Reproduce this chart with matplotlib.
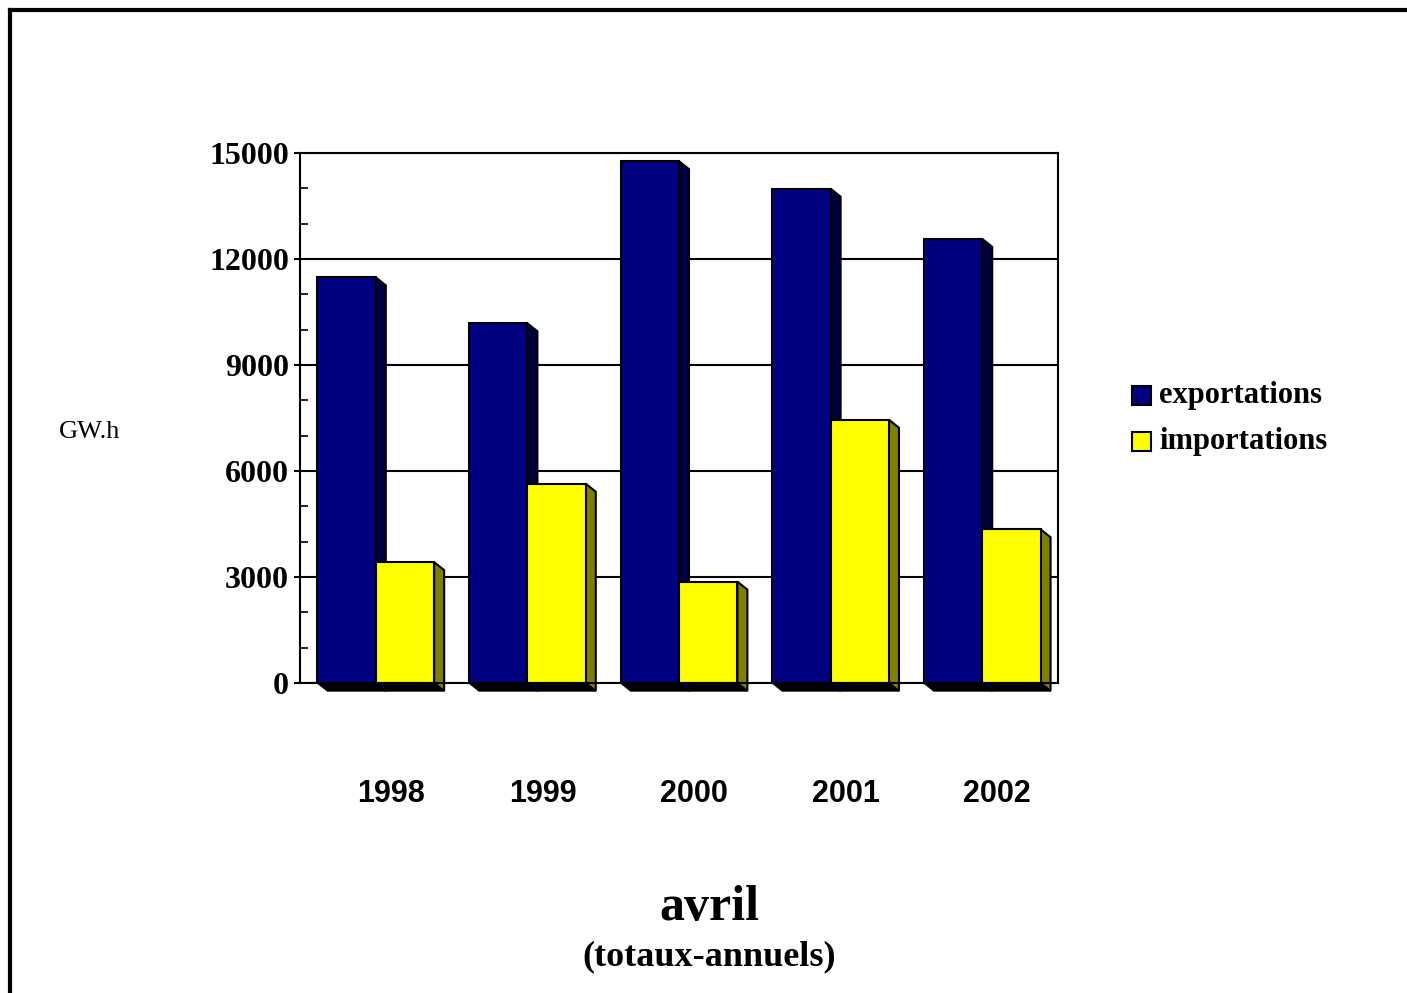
import matplotlib.pyplot as plt
from matplotlib.patches import Polygon, Rectangle
from matplotlib.lines import Line2D
from matplotlib.ticker import MultipleLocator

annees = ["1998", "1999", "2000", "2001", "2002"]
exportations = [11480, 10180, 14770, 13990, 12570]
importations = [3420, 5640, 2870, 7450, 4350]

bleu = "#000080"
bleu_cote = "#000040"
jaune = "#FFFF00"
jaune_cote = "#808000"

fig = plt.figure(figsize=(14.07, 9.93), dpi=100)
ax = fig.add_axes([300/1407, 1-683/993, 758/1407, 530/993])

# cadre de la page (bords droit et bas coupés)
fig.add_artist(Line2D([10/1407, 1.0], [1-10/993, 1-10/993], color="black", lw=3, transform=fig.transFigure))
fig.add_artist(Line2D([10/1407, 10/1407], [1-10/993, 0.0], color="black", lw=3, transform=fig.transFigure))

w = 0.385   # largeur d'une barre
dx = 0.066  # profondeur en x (unités de données)
dy = -226   # profondeur en y

ax.set_xlim(-0.5, 4.5)
ax.set_ylim(0, 15000)

for i in range(len(annees)):
    x0 = i - w
    # ombre au sol
    ax.add_patch(Polygon([(x0, 0), (i + w, 0), (i + w + dx, dy), (x0 + dx, dy)],
                         closed=True, fc="black", ec="black", lw=1, clip_on=False, zorder=3))
    # exportations
    e = exportations[i]
    ax.add_patch(Polygon([(i, e), (i + dx, e + dy), (i + dx, dy), (i, 0)],
                         closed=True, fc=bleu_cote, ec="black", lw=1.5, clip_on=False, zorder=4))
    ax.add_patch(Rectangle((x0, 0), w, e, fc=bleu, ec="black", lw=1.5, zorder=5))
    # importations
    m = importations[i]
    ax.add_patch(Polygon([(i + w, m), (i + w + dx, m + dy), (i + w + dx, dy), (i + w, 0)],
                         closed=True, fc=jaune_cote, ec="black", lw=1.5, clip_on=False, zorder=6))
    ax.add_patch(Rectangle((i, 0), w, m, fc=jaune, ec="black", lw=1.5, zorder=7))

ax.yaxis.set_major_locator(MultipleLocator(3000))
ax.yaxis.set_minor_locator(MultipleLocator(1000))
ax.grid(axis="y", which="major", color="black", lw=1.5, zorder=1)
ax.tick_params(axis="y", which="major", direction="out", length=4, width=1.5, pad=4,
               labelsize=23)
ax.tick_params(axis="y", which="minor", direction="in", length=6, width=1.2)
for lab in ax.get_yticklabels():
    lab.set_fontfamily("Liberation Serif")
    lab.set_fontweight("bold")

ax.set_xticks([i + 0.1 for i in range(len(annees))])
ax.set_xticklabels(annees, fontfamily="Liberation Sans", fontweight="bold", fontsize=22)
ax.tick_params(axis="x", length=0, pad=69)

for sp in ax.spines.values():
    sp.set_linewidth(1.5)
    sp.set_zorder(8)
ax.set_axisbelow(True)

# légende
fig.add_artist(Rectangle((1132/1407, 1-405/993), 19/1407, 19/993, fc=bleu, ec="black", lw=1.5,
                         transform=fig.transFigure))
fig.add_artist(Rectangle((1132/1407, 1-451/993), 19/1407, 19/993, fc=jaune, ec="black", lw=1.5,
                         transform=fig.transFigure))
fig.text(1159/1407, 1-396/993, "exportations", fontfamily="Liberation Serif", fontweight="bold",
         fontsize=22, va="center", ha="left")
fig.text(1159/1407, 1-441/993, "importations", fontfamily="Liberation Serif", fontweight="bold",
         fontsize=22, va="center", ha="left")

fig.text(90/1407, 1-432/993, "GW.h", fontfamily="Liberation Serif", fontsize=19,
         va="center", ha="center")
fig.text(709/1407, 1-908/993, "avril", fontfamily="Liberation Serif", fontweight="bold",
         fontsize=36, va="center", ha="center")
fig.text(709/1407, 1-957/993, "(totaux-annuels)", fontfamily="Liberation Serif", fontweight="bold",
         fontsize=26, va="center", ha="center")

fig.savefig("out.png", dpi=100)
